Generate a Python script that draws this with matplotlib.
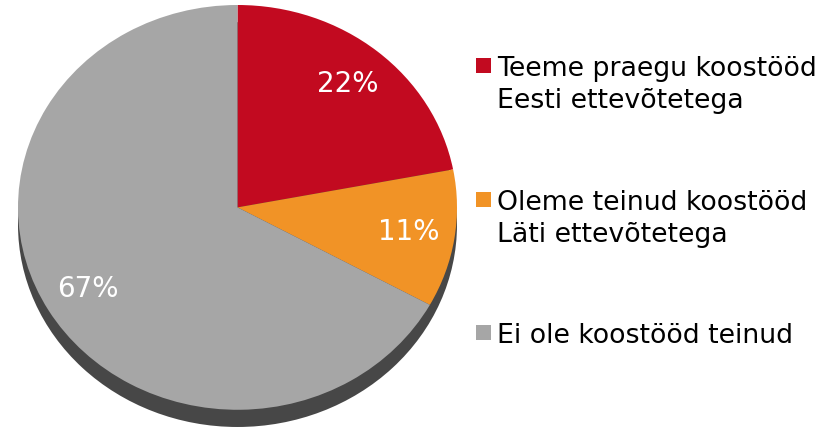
import matplotlib.pyplot as plt
from matplotlib.patches import Rectangle, Ellipse

# data
labels = ["Teeme praegu koostööd\nEesti ettevõtetega",
          "Oleme teinud koostööd\nLäti ettevõtetega",
          "Ei ole koostööd teinud"]
shares = [22, 11, 67]
colors = ["#C20A20", "#F19326", "#A6A6A6"]

W, H = 840, 430
fig = plt.figure(figsize=(W / 100, H / 100), dpi=100)
plt.rcParams['font.family'] = ['DejaVu Sans']

# pie axes (pixel box of the pie incl. shadow: x 18..457, y 5..428)
ax = fig.add_axes([18 / W, (H - 428) / H, 439 / W, 423 / H])

# shadow / rim under the pie
shadow = Ellipse((0, -0.085), 2.0, 2.0, facecolor="#474747", edgecolor="none", zorder=0)
ax.add_patch(shadow)

wedges, texts, autotexts = ax.pie(
    shares, colors=colors, startangle=90, counterclock=False, radius=1.0,
    autopct=lambda p: "{:.0f}%".format(p), pctdistance=0.79,
    wedgeprops=dict(linewidth=0, edgecolor="none"),
    textprops=dict(color="white", fontsize=20))
ax.set_xlim(-1, 1)
ax.set_ylim(-1.09, 1.0)
ax.set_aspect('auto')
ax.axis('off')
for w in wedges:
    w.set_zorder(1)
for t in autotexts:
    t.set_zorder(3)

# legend drawn by hand
square_y = [58, 192, 325]
for lab, col, sy in zip(labels, colors, square_y):
    fig.patches.append(Rectangle((476 / W, (H - sy - 15) / H), 15 / W, 15 / H,
                                 transform=fig.transFigure, facecolor=col,
                                 edgecolor="none", figure=fig))
    for i, line in enumerate(lab.split("\n")):
        base = sy + 18 + i * 32
        fig.text(497 / W, (H - base) / H, line, fontsize=19.3, color="black",
                 ha="left", va="baseline")

fig.savefig("out.png", dpi=100, facecolor="white")
